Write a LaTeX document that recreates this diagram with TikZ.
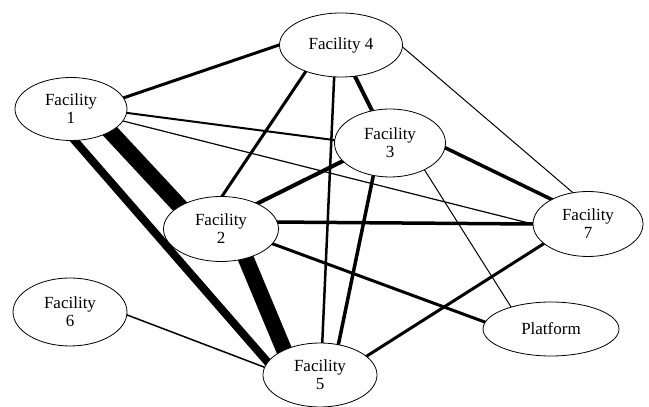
\documentclass[tikz,border=0pt]{standalone}
\usepackage{fontspec}
\setmainfont{Liberation Serif}
\usetikzlibrary{shapes.geometric}
\pgfdeclarelayer{bg}
\pgfsetlayers{bg,main}
\begin{document}
\begin{tikzpicture}[x=1pt,y=1pt,
  fac/.style={ellipse, draw, line width=0.8pt, fill=white, inner sep=0pt, align=center,
              font=\rmfamily\fontsize{17}{18}\selectfont},
  lnk/.style={line width=#1, shorten <=-7pt, shorten >=-7pt}]
\useasboundingbox (0,0) rectangle (649,407);
\node[fac, minimum width=112pt, minimum height=63pt] (f1) at (71,298) {Facility\\1};
\node[fac, minimum width=123pt, minimum height=64pt] (f4) at (341,362) {Facility 4};
\node[fac, minimum width=111pt, minimum height=68pt] (f3) at (390,264) {Facility\\3};
\node[fac, minimum width=115pt, minimum height=65pt] (f2) at (221,178) {Facility\\2};
\node[fac, minimum width=114pt, minimum height=68pt] (f6) at (70,95) {Facility\\6};
\node[fac, minimum width=114pt, minimum height=64pt] (f5) at (320,32) {Facility\\5};
\node[fac, minimum width=110pt, minimum height=65pt] (f7) at (588,183) {Facility\\7};
\node[fac, minimum width=136pt, minimum height=54pt] (p) at (551,78) {Platform};
\begin{pgfonlayer}{bg}
\draw[lnk=3] (f1.12) -- (f4.180);
\draw[lnk=2] (f1.-4) -- (f3.177);
\draw[lnk=1.2] (f1.-13) -- (f7.180);
\draw[lnk=16] (f1.-30) -- (f2.151);
\draw[lnk=8] (f1.-83) -- (f5.166);
\draw[lnk=16] (f2.-50) -- (f5.145);
\draw[lnk=1.5] (f6.-3) -- (f5.172);
\draw[lnk=3] (f4.217) -- (f2.88);
\draw[lnk=2.5] (f4.258) -- (f5.86);
\draw[lnk=4] (f4.-66) -- (f3.119);
\draw[lnk=1] (f4.-2) -- (f7.116);
\draw[lnk=4] (f3.201) -- (f2.35);
\draw[lnk=3.5] (f3.-117) -- (f5.59);
\draw[lnk=3.5] (f3.-5) -- (f7.146);
\draw[lnk=1] (f3.-38) -- (p.151);
\draw[lnk=3.5] (f2.7) -- (f7.180);
\draw[lnk=3] (f2.-16) -- (p.174);
\draw[lnk=3] (f5.22) -- (f7.204);
\end{pgfonlayer}
\end{tikzpicture}
\end{document}
